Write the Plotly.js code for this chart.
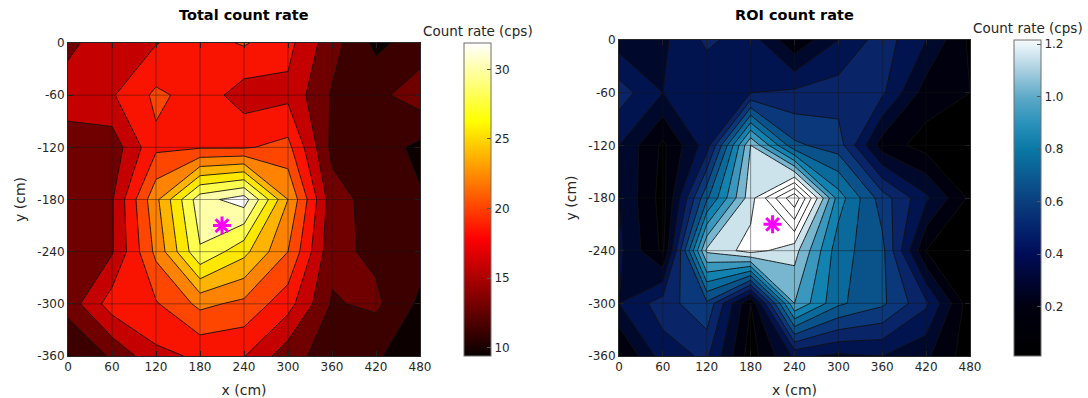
<!DOCTYPE html>
<html><head><meta charset="utf-8">
<script src="https://cdn.plot.ly/plotly-3.0.1.min.js"></script>
<style>html,body{margin:0;padding:0;background:#fff}#chart{width:1088px;height:398px}</style>
</head><body><div id="chart"></div>
<script>
// ---- data ----
const xPos = [0, 60, 120, 180, 240, 300, 360, 420, 480];
const yPos = [0, -60, -120, -180, -240, -300, -360];
const xTickVals = [0, 60, 120, 180, 240, 300, 360, 420, 480];
const xTickText = ['0', '60', '120', '180', '240', '300', '360', '420', '480'];
const yTickVals = [0, -60, -120, -180, -240, -300, -360];
const yTickText = ['0', '-60', '-120', '-180', '-240', '-300', '-360'];

// Total count rate (cps), rows follow yPos, columns follow xPos
const totalRate = [
  [13.5, 15.3, 15.9, 17.2, 18.2, 16.6, 12.8,  9.5, 11.0],
  [15.0, 15.8, 18.4, 17.2, 15.0, 15.5, 11.8, 11.5, 13.0],
  [13.0, 12.8, 17.6, 17.8, 17.8, 18.6, 11.5, 11.0,  9.5],
  [13.0, 13.8, 21.5, 29.2, 31.0, 22.0, 12.8, 11.2, 10.2],
  [13.2, 13.8, 20.5, 27.8, 24.6, 20.0, 12.5, 11.6, 10.8],
  [12.8, 17.0, 17.8, 20.5, 19.5, 16.8, 11.8, 12.4,  9.6],
  [ 9.9, 12.3, 15.5, 16.3, 16.1, 12.8, 11.0, 10.1,  9.5]
];
// ROI count rate (cps)
const roiRate = [
  [0.25, 0.28, 0.42, 0.35, 0.12, 0.30, 0.45, 0.30, 0.08],
  [0.45, 0.30, 0.32, 0.40, 0.42, 0.45, 0.42, 0.15, 0.10],
  [0.30, 0.08, 0.35, 1.10, 0.62, 0.55, 0.15, 0.06, 0.10],
  [0.30, 0.06, 0.68, 1.16, 1.58, 0.85, 0.55, 0.32, 0.08],
  [0.32, 0.08, 1.12, 1.24, 1.14, 0.74, 0.63, 0.10, 0.06],
  [0.30, 0.45, 0.58, 0.10, 1.00, 0.72, 0.62, 0.42, 0.04],
  [0.08, 0.35, 0.42, 0.05, 0.32, 0.28, 0.30, 0.22, 0.04]
];
const sourceX = [210];
const sourceY = [-210];

const totalLevels = {start: 10, end: 30, size: 2};
const roiLevels = {start: 0.1, end: 1.5, size: 0.1};
const totalCRange = [9.4, 31.9];
const roiCRange = [0.012, 1.216];
const totalBarTicks = [10, 15, 20, 25, 30];
const totalBarText = ['10', '15', '20', '25', '30'];
const roiBarTicks = [0.2, 0.4, 0.6, 0.8, 1.0, 1.2];
const roiBarText = ['0.2', '0.4', '0.6', '0.8', '1.0', '1.2'];

// ---- colours (style) ----
// fill colour of each band, from below the first level to above the last one
const totalBandColors = ['#0c0000', '#3c0000', '#700000', '#c40000', '#f81400', '#ff4600',
  '#ff8200', '#ffb400', '#ffe800', '#ffff50', '#ffffaa', '#ffffff'];
const roiBandColors = ['#000000', '#00000e', '#00092c', '#021450', '#0a2468', '#0a387a', '#0a528a',
  '#0a6a9c', '#1282b0', '#3a98bf', '#78b6d0', '#cde3ec', '#ffffff', '#ffffff', '#ffffff', '#ffffff'];
const hotScale = [[0, 'rgb(8,0,0)'], [0.375, 'rgb(255,0,0)'], [0.75, 'rgb(255,255,0)'], [1, 'rgb(255,255,255)']];
const iceStops = [
  [0.012, [0, 0, 0]], [0.2, [0, 0, 16]], [0.3, [0, 6, 50]], [0.4, [0, 12, 88]],
  [0.5, [4, 36, 110]], [0.6, [10, 62, 126]], [0.7, [10, 92, 146]], [0.8, [10, 120, 166]],
  [0.9, [42, 146, 188]], [1.0, [94, 170, 200]], [1.1, [168, 207, 224]], [1.2, [236, 245, 250]],
  [1.216, [246, 250, 252]]
];
const iceScale = iceStops.map(s => [(s[0] - roiCRange[0]) / (roiCRange[1] - roiCRange[0]), 'rgb(' + s[1].join(',') + ')']);

function bandScale(colors) {
  const n = colors.length - 1;
  return colors.map((c, k) => [k / n, c]);
}

// ---- layout geometry (pixels) ----
const W = 1088, H = 398;
const L = {x0: 68, x1: 420, y0: 43, y1: 356, cb: 464};
const R = {x0: 619, x1: 970, y0: 40, y1: 356, cb: 1014};
const FONT = 'DejaVu Sans, Verdana, sans-serif';
const TXT = '#262626';

function contourTrace(z, lv, colors, xa, ya) {
  return {
    type: 'contour', x: xPos, y: yPos, z: z, xaxis: xa, yaxis: ya,
    autocontour: false, contours: {start: lv.start, end: lv.end, size: lv.size, coloring: 'fill', showlines: true},
    colorscale: bandScale(colors), showscale: false,
    line: {color: '#111', width: 0.9, smoothing: 0},
    hoverinfo: 'skip'
  };
}
function barTrace(range, scale, box, ticks, text, xa, ya) {
  return {
    type: 'scatter', mode: 'markers', x: [-9999, -9999], y: [-9999, -9999], xaxis: xa, yaxis: ya,
    hoverinfo: 'skip', showlegend: false,
    marker: {
      size: 1, color: range, cmin: range[0], cmax: range[1], colorscale: scale, showscale: true,
      colorbar: {
        x: box.cb / W, xanchor: 'left', xpad: 0, ypad: 0,
        y: 1 - (box.y0 + box.y1) / 2 / H, yanchor: 'middle',
        len: (box.y1 - box.y0) / H, lenmode: 'fraction',
        thickness: 27, thicknessmode: 'pixels',
        outlinecolor: '#6e6e6e', outlinewidth: 1,
        tickmode: 'array', tickvals: ticks, ticktext: text,
        ticks: 'inside', ticklen: 4, tickcolor: '#555', tickwidth: 1,
        tickfont: {family: FONT, size: 12, color: TXT}
      }
    }
  };
}
function starTrace(xa, ya) {
  return {
    type: 'scatter', mode: 'markers', x: sourceX, y: sourceY, xaxis: xa, yaxis: ya,
    hoverinfo: 'skip', showlegend: false,
    marker: {symbol: 'asterisk-open', size: 15, color: '#ff00ff', line: {color: '#ff00ff', width: 3}}
  };
}

const data = [
  contourTrace(totalRate, totalLevels, totalBandColors, 'x', 'y'),
  contourTrace(roiRate, roiLevels, roiBandColors, 'x2', 'y2'),
  starTrace('x', 'y'),
  starTrace('x2', 'y2'),
  barTrace(totalCRange, hotScale, L, totalBarTicks, totalBarText, 'x', 'y'),
  barTrace(roiCRange, iceScale, R, roiBarTicks, roiBarText, 'x2', 'y2')
];

function xAxis(box) {
  return {
    domain: [box.x0 / W, box.x1 / W], range: [0, 480], anchor: box === L ? 'y' : 'y2',
    tickmode: 'array', tickvals: xTickVals, ticktext: xTickText,
    ticks: 'inside', ticklen: 5, tickcolor: TXT, showline: true, mirror: 'ticks', linecolor: TXT, linewidth: 1,
    showgrid: false, zeroline: false, tickfont: {family: FONT, size: 12, color: TXT},
    title: {text: 'x (cm)', font: {family: FONT, size: 14, color: TXT}, standoff: 11}
  };
}
function yAxis(box) {
  return {
    domain: [1 - box.y1 / H, 1 - box.y0 / H], range: [-360, 0], anchor: box === L ? 'x' : 'x2',
    tickmode: 'array', tickvals: yTickVals, ticktext: yTickText,
    ticks: 'inside', ticklen: 5, tickcolor: TXT, showline: true, mirror: 'ticks', linecolor: TXT, linewidth: 1,
    showgrid: false, zeroline: false, tickfont: {family: FONT, size: 12, color: TXT},
    title: {text: 'y (cm)', font: {family: FONT, size: 14, color: TXT}, standoff: 8}
  };
}

const shapes = [];
[['x', 'y'], ['x2', 'y2']].forEach(([xa, ya]) => {
  xTickVals.slice(1, -1).forEach(v => shapes.push({type: 'line', xref: xa, yref: ya + ' domain', x0: v, x1: v, y0: 0, y1: 1,
    line: {color: 'rgba(20,20,20,0.55)', width: 0.8}}));
  yTickVals.slice(1, -1).forEach(v => shapes.push({type: 'line', xref: xa + ' domain', yref: ya, x0: 0, x1: 1, y0: v, y1: v,
    line: {color: 'rgba(20,20,20,0.55)', width: 0.8}}));
});

const annotations = [
  {text: '<b>Total count rate</b>', x: (L.x0 + L.x1) / 2 / W, y: 1 - 15 / H, xref: 'paper', yref: 'paper',
   showarrow: false, xanchor: 'center', yanchor: 'middle', font: {family: FONT, size: 14.5, color: '#000'}},
  {text: '<b>ROI count rate</b>', x: (R.x0 + R.x1) / 2 / W, y: 1 - 15 / H, xref: 'paper', yref: 'paper',
   showarrow: false, xanchor: 'center', yanchor: 'middle', font: {family: FONT, size: 14.5, color: '#000'}},
  {text: 'Count rate (cps)', x: (L.cb + 13.5) / W, y: 1 - 31 / H, xref: 'paper', yref: 'paper',
   showarrow: false, xanchor: 'center', yanchor: 'middle', font: {family: FONT, size: 13.5, color: TXT}},
  {text: 'Count rate (cps)', x: (R.cb + 13.5) / W, y: 1 - 28 / H, xref: 'paper', yref: 'paper',
   showarrow: false, xanchor: 'center', yanchor: 'middle', font: {family: FONT, size: 13.5, color: TXT}}
];

const layout = {
  width: W, height: H, margin: {l: 0, r: 0, t: 0, b: 0},
  paper_bgcolor: '#fff', plot_bgcolor: '#fff', showlegend: false,
  font: {family: FONT, color: TXT},
  xaxis: xAxis(L), yaxis: yAxis(L), xaxis2: xAxis(R), yaxis2: yAxis(R),
  shapes: shapes, annotations: annotations
};
Plotly.newPlot('chart', data, layout, {staticPlot: true, displayModeBar: false});
</script>
</body></html>
